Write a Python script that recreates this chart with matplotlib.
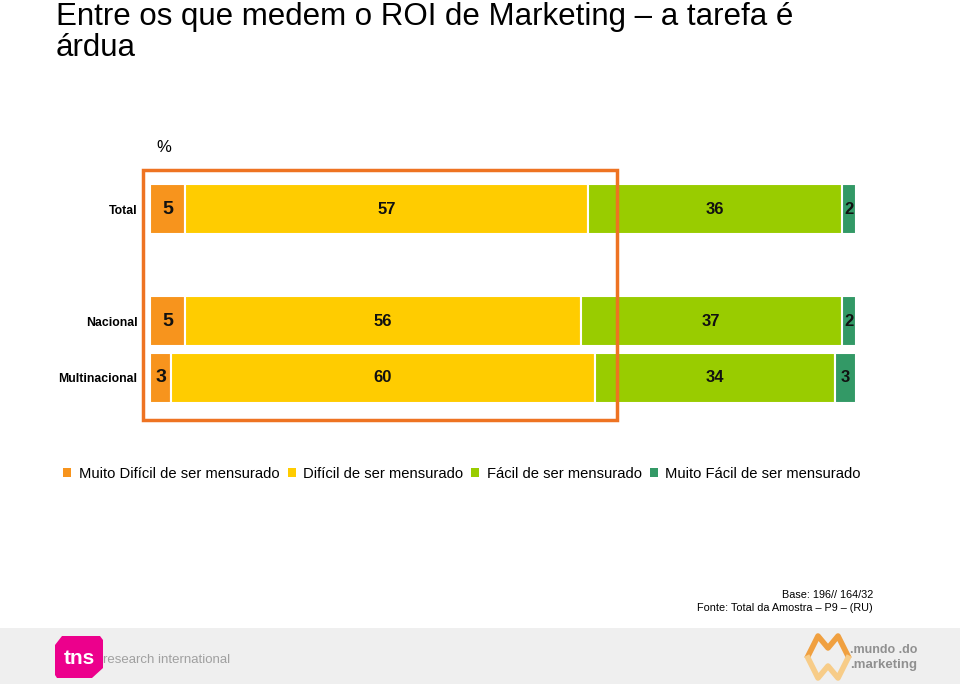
import numpy as np
import matplotlib.pyplot as plt
from matplotlib.patches import Rectangle, Polygon, Patch

plt.rcParams['font.family'] = ['Liberation Sans', 'DejaVu Sans']

categories = ['Total', 'Nacional', 'Multinacional']
series_names = ['Muito Difícil de ser mensurado', 'Difícil de ser mensurado',
                'Fácil de ser mensurado', 'Muito Fácil de ser mensurado']
muito_dificil = [5, 5, 3]
dificil = [57, 56, 60]
facil = [36, 37, 34]
muito_facil = [2, 2, 3]
colors = ['#F7941D', '#FFCC00', '#99CC00', '#339966']

W, H = 960, 684
fig = plt.figure(figsize=(9.6, 6.84), dpi=100)

def fx(px):
    return px / W

def fy(py):
    return 1 - py / H

# title, two lines
fig.text(fx(56), fy(25), 'Entre os que medem o ROI de Marketing – a tarefa é',
         fontsize=22.5, va='baseline', ha='left')
fig.text(fx(56), fy(56), 'árdua', fontsize=22.5, va='baseline', ha='left')
fig.text(fx(156), fy(148), '%', fontsize=12, va='center', ha='left')

# bar axes: pixel box 150..856 x 170..420
ax = fig.add_axes([fx(150), fy(420), fx(856) - fx(150), (420 - 170) / H])
ypos = [39, 151, 208]
series = [muito_dificil, dificil, facil, muito_facil]
left = np.zeros(len(categories))
for i, vals in enumerate(series):
    vals = np.array(vals, dtype=float)
    ax.barh(ypos, vals, left=left, height=50, color=colors[i],
            edgecolor='white', linewidth=1.5)
    for y, l, v in zip(ypos, left, vals):
        fs = 14 if i == 0 else 12
        ax.text(l + v / 2, y, f'{int(v)}', ha='center', va='center',
                fontsize=fs, fontweight='bold', color='#111111')
    left += vals
ax.set_xlim(0, 100)
ax.set_ylim(250, 0)
ax.set_yticks(ypos)
ax.set_yticklabels(categories, fontsize=8.8, fontweight='bold')
ax.tick_params(axis='y', length=0, pad=9)
ax.set_xticks([])
for s in ax.spines.values():
    s.set_visible(False)
ax.patch.set_alpha(0)

# orange highlight box
fig.patches.append(Rectangle((fx(143), fy(420)), fx(617) - fx(143), (420 - 170) / H,
                             transform=fig.transFigure, fill=False,
                             edgecolor='#EE7322', linewidth=2.5, zorder=5))

# legend
handles = [Patch(facecolor=c, edgecolor='none') for c in colors]
fig.legend(handles, series_names, loc='center left', bbox_to_anchor=(fx(56), fy(474)),
           ncol=4, frameon=False, fontsize=10.6, handlelength=0.55, handleheight=0.55,
           handletextpad=0.5, columnspacing=0.55, borderpad=0)

# source notes
fig.text(fx(873), fy(595), 'Base: 196// 164/32', fontsize=7.8, ha='right', va='center')
fig.text(fx(873), fy(608), 'Fonte: Total da Amostra – P9 – (RU)', fontsize=7.8,
         ha='right', va='center')

# footer band with logos
fig.patches.append(Rectangle((0, 0), 1, fy(628), transform=fig.transFigure,
                             facecolor='#EFEFEF', edgecolor='none', zorder=0))
tns = [(62, 636), (100, 636), (103, 640), (103, 668), (92, 678), (57, 678), (55, 675), (55, 645)]
fig.patches.append(Polygon([(fx(x), fy(y)) for x, y in tns], closed=True,
                           transform=fig.transFigure, facecolor='#EC008C',
                           edgecolor='none', zorder=1))
fig.text(fx(79), fy(659), 'tns', color='white', fontsize=15, fontweight='bold',
         ha='center', va='center', zorder=2)
fig.text(fx(103), fy(660), 'research international', color='#A0A0A0', fontsize=9.5,
         ha='left', va='center', zorder=2)

m_shape = [(808, 656), (818, 636), (828, 648), (838, 636), (848, 656)]
w_shape = [(808, 658), (818, 678), (828, 666), (838, 678), (848, 658)]
fig.lines.append(plt.Line2D([fx(x) for x, y in m_shape], [fy(y) for x, y in m_shape],
                            transform=fig.transFigure, color='#F0A040', linewidth=4, zorder=2))
fig.lines.append(plt.Line2D([fx(x) for x, y in w_shape], [fy(y) for x, y in w_shape],
                            transform=fig.transFigure, color='#F7CC88', linewidth=4, zorder=2))
fig.text(fx(850), fy(650), '.mundo .do', color='#909090', fontsize=9, fontweight='bold',
         ha='left', va='center', zorder=2)
fig.text(fx(850), fy(665), '.marketing', color='#909090', fontsize=9.5, fontweight='bold',
         ha='left', va='center', zorder=2)

fig.savefig('out.png', dpi=100)
